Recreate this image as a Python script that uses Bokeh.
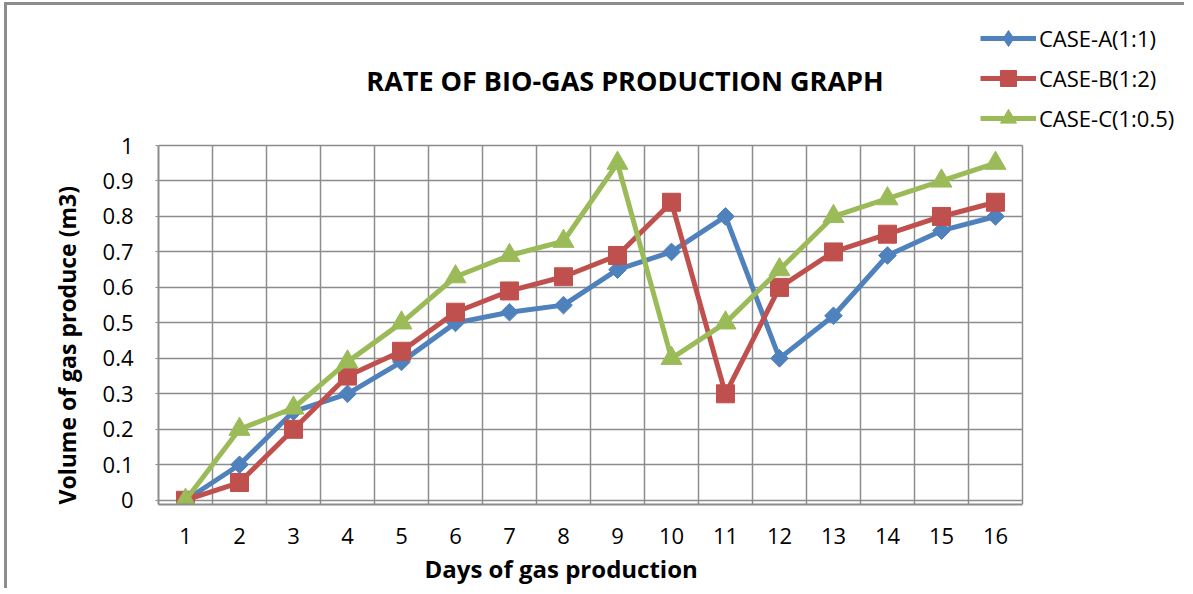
import math
from bokeh.plotting import figure
from bokeh.models import (ColumnDataSource, Range1d, FixedTicker, Legend, LegendItem, Label, Title, Grid)
from bokeh.embed import file_html
from bokeh.resources import INLINE

# ---- data ----
days = list(range(1, 17))
day_labels = [str(d) for d in days]
case_a = [0, 0.10, 0.25, 0.30, 0.39, 0.50, 0.53, 0.55, 0.65, 0.70, 0.80, 0.40, 0.52, 0.69, 0.76, 0.80]
case_b = [0, 0.05, 0.20, 0.35, 0.42, 0.53, 0.59, 0.63, 0.69, 0.84, 0.30, 0.60, 0.70, 0.75, 0.80, 0.84]
case_c = [0, 0.20, 0.26, 0.39, 0.50, 0.63, 0.69, 0.73, 0.95, 0.40, 0.50, 0.65, 0.80, 0.85, 0.90, 0.95]
series_names = ["CASE-A(1:1)", "CASE-B(1:2)", "CASE-C(1:0.5)"]
y_ticks = [0, 0.1, 0.2, 0.3, 0.4, 0.5, 0.6, 0.7, 0.8, 0.9, 1]
y_tick_labels = ["0", "0.1", "0.2", "0.3", "0.4", "0.5", "0.6", "0.7", "0.8", "0.9", "1"]
title_text = "RATE OF  BIO-GAS PRODUCTION GRAPH"
x_title = "Days of gas production"
y_title = "Volume of gas produce (m3)"

FONT = "Open Sans"
GRID = "#8c8c8c"
colors = ["#4F81BD", "#C0504D", "#9BBB59"]

# plot-area extents (data) and extended frame (room for title & legend)
X_LO, X_HI = 0.5, 16.5
Y_LO, Y_HI = -0.012, 1.0

p = figure(
    width=1180, height=586,
    x_range=Range1d(X_LO, 19.556), y_range=Range1d(Y_LO, 1.3947),
    output_backend="svg", toolbar_location=None,
    min_border_left=151, min_border_right=0, min_border_top=0, min_border_bottom=87,
)
p.styles = {"border-left": "3px solid #8c8c8c", "border-top": "3px solid #8c8c8c",
            "margin-left": "4px", "margin-top": "2px"}
p.outline_line_color = None
p.background_fill_color = "white"
p.border_fill_color = "white"

# axes
p.xaxis.ticker = FixedTicker(ticks=days)
p.xaxis.bounds = (X_LO, X_HI)
p.xaxis.major_label_overrides = {d: l for d, l in zip(days, day_labels)}
p.xaxis.major_tick_line_color = None
p.xaxis.minor_tick_line_color = None
p.xaxis.axis_line_color = GRID
p.xaxis.axis_line_width = 2
p.xaxis.major_label_text_font = FONT
p.xaxis.major_label_text_font_size = "22px"
p.xaxis.major_label_text_color = "black"
p.xaxis.major_label_standoff = 17

p.yaxis.ticker = FixedTicker(ticks=y_ticks)
p.yaxis.bounds = (Y_LO, Y_HI)
p.yaxis.major_label_overrides = {t: l for t, l in zip(y_ticks, y_tick_labels)}
p.yaxis.major_tick_line_color = GRID
p.yaxis.major_tick_out = 3
p.yaxis.major_tick_in = 0
p.yaxis.minor_tick_line_color = None
p.yaxis.axis_line_color = GRID
p.yaxis.axis_line_width = 2
p.yaxis.major_label_text_font = FONT
p.yaxis.major_label_text_font_size = "22px"
p.yaxis.major_label_text_color = "black"
p.yaxis.major_label_standoff = 22

# grids limited to the plot area
x_bounds_ticks = [d + 0.5 for d in range(0, 17)]
p.xgrid.visible = False
p.ygrid.visible = False
if "cross_bounds" in Grid.properties():
    gx = Grid(dimension=0, ticker=FixedTicker(ticks=x_bounds_ticks), bounds=(X_LO, X_HI),
              cross_bounds=(Y_LO, Y_HI), grid_line_color=GRID, grid_line_width=1.5)
    gy = Grid(dimension=1, ticker=FixedTicker(ticks=y_ticks), bounds=(Y_LO, Y_HI),
              cross_bounds=(X_LO, X_HI), grid_line_color=GRID, grid_line_width=1.5)
    p.add_layout(gx)
    p.add_layout(gy)
else:
    p.segment(x0=x_bounds_ticks, x1=x_bounds_ticks, y0=[Y_LO] * len(x_bounds_ticks),
              y1=[Y_HI] * len(x_bounds_ticks), line_color=GRID, line_width=1.5)
    p.segment(x0=[X_LO] * len(y_ticks), x1=[X_HI] * len(y_ticks), y0=y_ticks, y1=y_ticks,
              line_color=GRID, line_width=1.5)

# series: (plot marker, size, angle, legend marker, legend size)
markers = [("square", 12.5, math.pi / 4, "diamond", None),
           ("square", 18, 0, None, None),
           ("triangle", 21, 0, None, None)]
items = []
for name, vals, col, (mk, sz, ang, lmk, _) in zip(series_names, [case_a, case_b, case_c], colors, markers):
    src = ColumnDataSource(dict(x=days, y=vals))
    l = p.line("x", "y", source=src, line_color=col, line_width=5)
    s = p.scatter("x", "y", source=src, marker=mk, size=sz, angle=ang,
                  fill_color=col, line_color=col)
    rends = [l, s]
    if lmk is not None:
        # legend-only proxy (no visible point) so the key shows a diamond
        proxy = ColumnDataSource(dict(x=[float("nan")], y=[float("nan")]))
        pr = p.scatter("x", "y", source=proxy, marker=lmk, size=sz,
                       fill_color=col, line_color=col)
        rends = [l, pr]
    items.append(LegendItem(label=name, renderers=rends))

legend = Legend(items=items, location=(822, 366),
                label_text_font=FONT, label_text_font_size="22px", label_text_color="black",
                glyph_width=56, glyph_height=40, spacing=0, padding=0, margin=0,
                label_standoff=3, border_line_color=None, background_fill_alpha=0)
p.add_layout(legend, "center")

# chart title inside the extended frame
p.add_layout(Label(x=470, y=424, x_units="screen", y_units="screen", text=title_text,
                   text_font=FONT, text_font_style="bold", text_font_size="27px",
                   text_align="center", text_baseline="middle", text_color="black"))

# axis titles as side titles
xt = Title(text=x_title, align="left", offset=266, standoff=6,
           text_font=FONT, text_font_style="bold", text_font_size="24px", text_color="black")
p.add_layout(xt, "below")
yt = Title(text=y_title, align="left", offset=0, standoff=34,
           text_font=FONT, text_font_style="bold", text_font_size="23px", text_color="black")
p.add_layout(yt, "left")

open("out.html", "w").write(file_html(p, INLINE))
